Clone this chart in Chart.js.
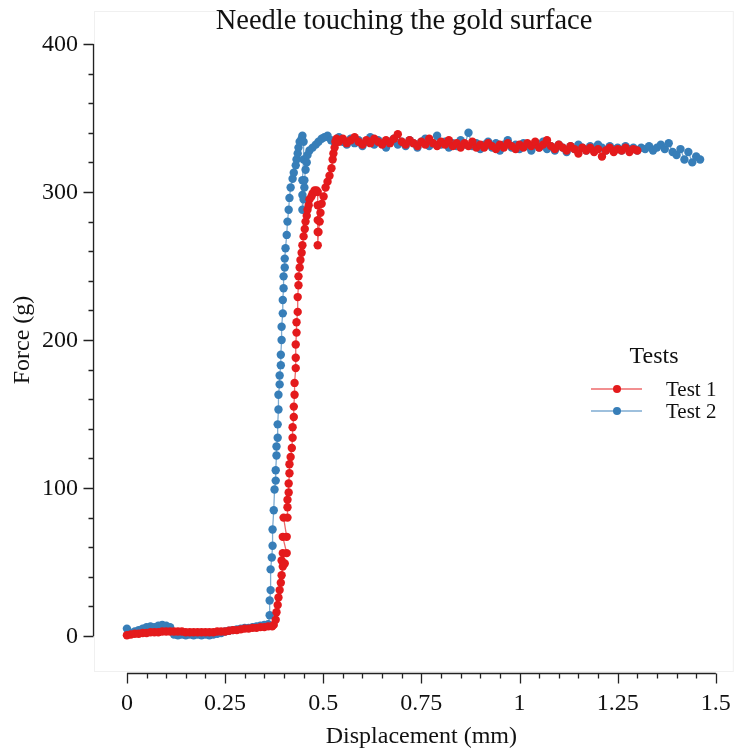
<!DOCTYPE html>
<html>
<head>
<meta charset="utf-8">
<script src="https://cdn.jsdelivr.net/npm/chart.js@4.4.1/dist/chart.umd.min.js"></script>
<style>
  html, body { margin: 0; padding: 0; background: #fff; }
  canvas { display: block; }
</style>
</head>
<body>
<canvas id="forceChart" width="738" height="753"></canvas>
<script>
const seriesNames = ['Test 1', 'Test 2'];
const xTicks = [0, 0.25, 0.5, 0.75, 1, 1.25, 1.5];
const yTicks = [0, 100, 200, 300, 400];

// Test 1 (red) : [displacement mm, force g]
const test1Base = [[0,0.5],[0.01,1],[0.02,1.5],[0.03,1.5],[0.04,2],[0.05,2],[0.06,2.5],[0.07,2.5],[0.08,2.5],[0.09,3],
  [0.10,3],[0.11,3],[0.12,3],[0.13,3],[0.14,3],[0.15,2.5],[0.16,2.5],[0.17,2.5],[0.18,2.5],[0.19,2.5],
  [0.20,2.5],[0.21,2.5],[0.22,2.5],[0.23,3],[0.24,3],[0.25,3],[0.26,3.5],[0.27,4],[0.28,4],[0.29,4.5],
  [0.30,5],[0.31,5],[0.32,5.5],[0.33,5.5],[0.34,6],[0.35,6],[0.36,6.5],[0.37,6.5]];
const test1Rise = [[0.374,7.5],[0.379,11],[0.381,16],[0.384,21],[0.386,26],[0.389,31],[0.392,36],[0.394,41],[0.397,47],
  [0.394,51],[0.402,49],[0.397,56],[0.407,56],[0.397,67],[0.407,67],[0.399,80],[0.409,80],[0.409,87],[0.409,92],
  [0.412,97],[0.412,103],[0.414,110],[0.414,116],[0.417,121],[0.420,127],[0.422,134],[0.422,141],[0.425,148],
  [0.425,155],[0.427,163],[0.427,171],[0.430,181],[0.430,188],[0.430,197],[0.432,205],[0.432,212],[0.435,219],
  [0.435,229],[0.437,237],[0.437,243],[0.440,249],[0.442,254],[0.445,259],[0.447,264],[0.450,270],[0.453,275],
  [0.455,280],[0.458,284],[0.460,288],[0.463,291],[0.465,295],[0.470,297],[0.473,299],[0.478,301],[0.483,301],
  [0.486,300],[0.486,291],[0.486,281],[0.486,273],[0.486,264],[0.488,273],[0.491,280],[0.493,286],[0.496,292],
  [0.501,297],[0.506,303],[0.511,307],[0.516,311],[0.521,316],[0.524,322],[0.526,326],[0.529,330],[0.531,334],[0.534,336]];
const test1Plateau = [[0.54,334],[0.55,336],[0.56,333],[0.57,335],[0.58,337],[0.59,334],[0.60,332],[0.61,335],[0.62,333],
  [0.63,336],[0.64,334],[0.65,332],[0.66,335],[0.67,333],[0.68,336],[0.69,339],[0.70,334],[0.71,332],[0.72,335],
  [0.73,333],[0.74,331],[0.75,334],[0.76,332],[0.77,336],[0.78,333],[0.79,331],[0.80,334],[0.81,332],[0.82,335],
  [0.83,331],[0.84,333],[0.85,330],[0.86,333],[0.87,331],[0.88,334],[0.89,330],[0.90,332],[0.91,330],[0.92,333],
  [0.93,331],[0.94,329],[0.95,332],[0.96,330],[0.97,333],[0.98,331],[0.99,329],[1.00,332],[1.01,330],[1.02,333],
  [1.03,331],[1.04,334],[1.05,330],[1.06,332],[1.07,335],[1.08,331],[1.09,329],[1.10,332],[1.11,330],[1.12,328],
  [1.13,331],[1.14,329],[1.15,326],[1.16,330],[1.17,328],[1.18,330],[1.19,327],[1.20,329],[1.21,324],[1.22,328],
  [1.23,330],[1.24,327],[1.25,329],[1.26,328],[1.27,330],[1.28,327],[1.29,329],[1.30,328]];

// Test 2 (blue)
const test2Base = [[0,5],[0.01,2],[0.02,3],[0.03,4],[0.04,5],[0.05,6],[0.06,6.5],[0.07,6],[0.08,7],[0.09,7.5],
  [0.10,7],[0.11,6],[0.12,1],[0.13,0.5],[0.14,1],[0.15,0.5],[0.16,1],[0.17,0.5],[0.18,1],[0.19,0.5],
  [0.20,1],[0.21,0.5],[0.22,1],[0.23,1.5],[0.24,2],[0.25,3],[0.26,3.5],[0.27,4],[0.28,4.5],[0.29,5],
  [0.30,5.5],[0.31,5.5],[0.32,6],[0.33,6.5],[0.34,7],[0.35,7.5],[0.36,8]];
const test2Rise = [[0.3636,14],[0.3636,24],[0.366,31],[0.366,45],[0.369,53],[0.371,61],[0.371,72],[0.374,85],[0.376,99],
  [0.379,105],[0.379,112],[0.381,122],[0.381,128],[0.384,134],[0.384,143],[0.386,153],[0.386,163],[0.389,170],
  [0.389,176],[0.392,183],[0.392,190],[0.394,200],[0.394,209],[0.397,218],[0.397,227],[0.399,235],[0.399,243],
  [0.402,249],[0.402,255],[0.404,262],[0.407,271],[0.409,280],[0.412,288],[0.414,296],[0.417,303],[0.422,309],
  [0.425,313],[0.430,318],[0.432,322],[0.435,326],[0.437,330],[0.440,334],[0.445,336],[0.447,338],[0.450,334],
  [0.450,322],[0.447,308],[0.447,298],[0.447,288],[0.450,295],[0.452,303],[0.452,308],[0.455,315],[0.458,320],
  [0.460,325],[0.465,328],[0.473,330],[0.481,332],[0.488,334],[0.496,336],[0.503,337],[0.511,338]];
const test2Plateau = [[0.52,335],[0.53,333],[0.54,337],[0.55,334],[0.56,332],[0.57,336],[0.58,333],[0.59,335],[0.60,331],
  [0.61,334],[0.62,337],[0.63,332],[0.64,335],[0.65,333],[0.66,330],[0.67,334],[0.68,336],[0.69,332],[0.70,334],
  [0.71,331],[0.72,335],[0.73,333],[0.74,330],[0.75,334],[0.76,336],[0.77,331],[0.78,333],[0.79,338],[0.80,332],
  [0.81,334],[0.82,330],[0.83,333],[0.84,331],[0.85,335],[0.86,332],[0.87,340],[0.88,331],[0.89,333],[0.90,329],
  [0.91,332],[0.92,334],[0.93,330],[0.94,333],[0.95,328],[0.96,332],[0.97,335],[0.98,330],[0.99,332],[1.00,329],
  [1.01,333],[1.02,331],[1.03,328],[1.04,332],[1.05,330],[1.06,334],[1.07,329],[1.08,331],[1.09,328],[1.10,332],
  [1.11,330],[1.12,327],[1.13,331],[1.14,329],[1.15,332],[1.16,330],[1.17,328],[1.18,331],[1.19,329],[1.20,332],
  [1.21,330],[1.22,328],[1.23,331],[1.24,329],[1.25,330],[1.26,328],[1.27,331],[1.28,329],[1.29,330],[1.30,328],
  [1.31,330],[1.32,329],[1.33,331],[1.34,328],[1.35,330],[1.36,332],[1.37,329],[1.38,333],[1.39,327],[1.40,325],
  [1.41,329],[1.42,322],[1.43,327],[1.44,320],[1.45,324],[1.46,322]];

const red = '#E41A1C';
const blue = '#377EB8';
const serif = '"Liberation Serif", "Times New Roman", serif';

const toPoints = (...parts) => parts.flat().map(p => ({ x: p[0], y: p[1] }));
const fmt = v => String(+Number(v).toFixed(2));

// R style axes: lines only over the tick range, outward major/minor ticks, labels
const rAxes = {
  id: 'rAxes',
  beforeDatasetsDraw(chart) {
    const { ctx, chartArea: a, scales: { x, y } } = chart;
    ctx.save();
    ctx.strokeStyle = '#f0f0f0';
    ctx.lineWidth = 1;
    ctx.strokeRect(a.left + 1.5, a.top + 0.5, a.right - a.left - 2, a.bottom - a.top - 2);

    ctx.strokeStyle = '#222';
    ctx.lineWidth = 1.3;
    ctx.beginPath();
    const ax = a.left + 0.5;
    ctx.moveTo(ax, y.getPixelForValue(yTicks[0]));
    ctx.lineTo(ax, y.getPixelForValue(yTicks[yTicks.length - 1]));
    for (let v = yTicks[0]; v <= yTicks[yTicks.length - 1]; v += 20) {
      const py = Math.round(y.getPixelForValue(v)) + 0.5;
      const len = yTicks.includes(v) ? 10 : 5;
      ctx.moveTo(ax, py);
      ctx.lineTo(ax - len, py);
    }
    const ay = a.bottom + 0.5;
    ctx.moveTo(x.getPixelForValue(xTicks[0]), ay);
    ctx.lineTo(x.getPixelForValue(xTicks[xTicks.length - 1]), ay);
    for (let i = 0; i <= 30; i++) {
      const px = Math.round(x.getPixelForValue(i * 0.05)) + 0.5;
      const len = i % 5 === 0 ? 10 : 5;
      ctx.moveTo(px, ay);
      ctx.lineTo(px, ay + len);
    }
    ctx.stroke();

    ctx.fillStyle = '#111';
    ctx.font = '24px ' + serif;
    ctx.textBaseline = 'middle';
    ctx.textAlign = 'right';
    yTicks.forEach(v => ctx.fillText(fmt(v), 78, y.getPixelForValue(v) + 1));
    ctx.textAlign = 'center';
    xTicks.forEach(v => ctx.fillText(fmt(v), x.getPixelForValue(v), 704));
    ctx.restore();
  },
  afterDraw(chart) {
    const { ctx, scales: { x, y } } = chart;
    ctx.save();
    ctx.fillStyle = '#111';
    ctx.textAlign = 'center';
    ctx.textBaseline = 'middle';

    ctx.font = '28.5px ' + serif;
    ctx.fillText('Needle touching the gold surface', 404, 22);

    ctx.font = '24px ' + serif;
    const xMid = (x.getPixelForValue(xTicks[0]) + x.getPixelForValue(xTicks[xTicks.length - 1])) / 2;
    ctx.fillText('Displacement (mm)', xMid, 737);

    const yMid = (y.getPixelForValue(yTicks[0]) + y.getPixelForValue(yTicks[yTicks.length - 1])) / 2;
    ctx.translate(23, yMid);
    ctx.rotate(-Math.PI / 2);
    ctx.fillText('Force (g)', 0, 0);
    ctx.setTransform(1, 0, 0, 1, 0, 0);

    // legend
    ctx.font = '24px ' + serif;
    ctx.fillText('Tests', 654, 357);
    ctx.font = '21px ' + serif;
    ctx.textAlign = 'left';
    chart.data.datasets.forEach((ds, i) => {
      const ly = 389 + i * 22;
      ctx.strokeStyle = ds.borderColor;
      ctx.lineWidth = 1.3;
      ctx.beginPath();
      ctx.moveTo(591, ly);
      ctx.lineTo(642, ly);
      ctx.stroke();
      ctx.fillStyle = ds.pointBackgroundColor;
      ctx.beginPath();
      ctx.arc(617, ly, 4, 0, Math.PI * 2);
      ctx.fill();
      ctx.fillStyle = '#111';
      ctx.fillText(seriesNames[i], 666, ly + 1);
    });
    ctx.restore();
  }
};

new Chart(document.getElementById('forceChart'), {
  type: 'scatter',
  data: {
    datasets: [
      {
        label: seriesNames[0],
        data: toPoints(test1Base, test1Rise, test1Plateau),
        showLine: true,
        borderColor: 'rgba(228,26,28,0.65)',
        borderWidth: 1.3,
        pointBackgroundColor: red,
        pointBorderWidth: 0,
        pointRadius: 4.2
      },
      {
        label: seriesNames[1],
        data: toPoints(test2Base, test2Rise, test2Plateau),
        showLine: true,
        borderColor: 'rgba(55,126,184,0.65)',
        borderWidth: 1.3,
        pointBackgroundColor: blue,
        pointBorderWidth: 0,
        pointRadius: 4.2
      }
    ]
  },
  options: {
    responsive: false,
    animation: false,
    devicePixelRatio: 1,
    layout: { padding: { top: 11, right: 3, left: 0, bottom: 0 } },
    plugins: {
      legend: { display: false },
      title: { display: false },
      tooltip: { enabled: false }
    },
    scales: {
      x: {
        type: 'linear',
        min: -0.0864,
        max: 1.5458,
        afterFit: s => { s.height = 80; },
        grid: { display: false, drawTicks: false },
        border: { display: false },
        ticks: { display: false }
      },
      y: {
        type: 'linear',
        min: -25,
        max: 422.3,
        afterFit: s => { s.width = 93; },
        grid: { display: false, drawTicks: false },
        border: { display: false },
        ticks: { display: false }
      }
    }
  },
  plugins: [rAxes]
});
</script>
</body>
</html>
